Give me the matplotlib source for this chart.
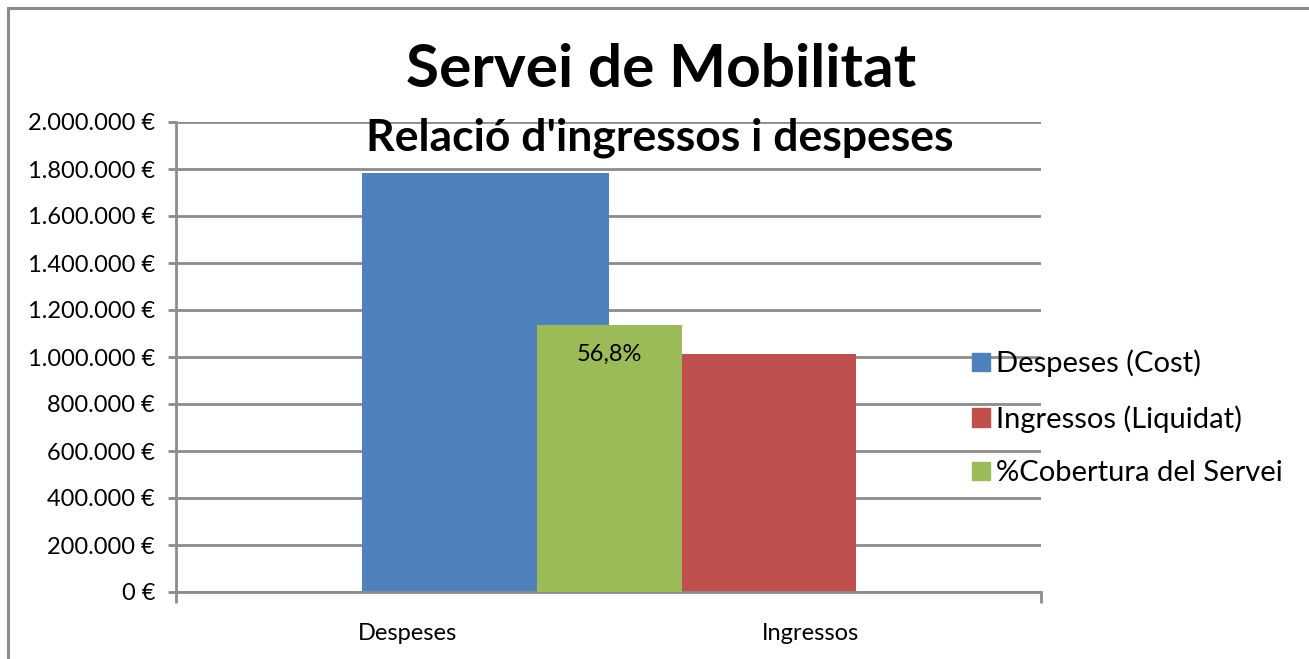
import matplotlib
matplotlib.use('Agg')
import matplotlib.pyplot as plt
from matplotlib.patches import Rectangle, Patch
from matplotlib.ticker import FuncFormatter, MultipleLocator

plt.rcParams['font.family'] = ['Lato', 'DejaVu Sans']

# data
categories = ['Despeses', 'Ingressos']
series_names = ['Despeses (Cost)', 'Ingressos (Liquidat)', '%Cobertura del Servei']
cost = 1783000
income = 1012500
coverage = income / cost          # 56,8%

colors = ['#4f81bd', '#c0504d', '#9bbb59']
grid_col = '#8c8c8c'

# layout of the bars (excel places them oddly)
x_cost, w_cost = 0.716, 0.571
x_cov, w_cov = 1.002, 0.335
x_inc, w_inc = 1.371, 0.402
label_x = [0.536, 1.468]

fig = plt.figure(figsize=(13.09, 6.59), dpi=100)
W, H = 1309, 659

# outer chart frame
fig.patches.append(Rectangle((8 / W, -0.05), 1.2, (H - 8) / H + 0.05,
                             transform=fig.transFigure, fill=False,
                             edgecolor=grid_col, linewidth=2.2))

ax = fig.add_axes([176 / W, (H - 592) / H, 865 / W, 470 / H])
ax.set_xlim(0, 2)
ax.set_ylim(0, 2000000)
ax.yaxis.set_major_locator(MultipleLocator(200000))

def euro(v, pos):
    return '{:,.0f} €'.format(v).replace(',', '.')

ax.yaxis.set_major_formatter(FuncFormatter(euro))
ax.grid(axis='y', color=grid_col, linewidth=2)
ax.set_axisbelow(True)
for s in ['top', 'right']:
    ax.spines[s].set_visible(False)
for s in ['left', 'bottom']:
    ax.spines[s].set_color(grid_col)
    ax.spines[s].set_linewidth(2)

ax.tick_params(axis='y', length=6, width=2, color=grid_col, labelsize=17, pad=9)
ax.set_xticks(label_x)
ax.set_xticklabels(categories, fontsize=17)
ax.tick_params(axis='x', which='major', length=0, pad=22)
ax.set_xticks([0, 2], minor=True)
ax.tick_params(axis='x', which='minor', length=8, width=2, color=grid_col)

ax.bar(x_cost, cost, width=w_cost, color=colors[0], zorder=2)
ax.bar(x_inc, income, width=w_inc, color=colors[1], zorder=2)

# coverage on a hidden secondary axis (0..100%)
ax2 = ax.twinx()
ax2.set_ylim(0, 1)
ax2.axis('off')
ax2.bar(x_cov, coverage, width=w_cov, color=colors[2], zorder=3)
ax2.text(x_cov, coverage - 0.04, '{:.1f}%'.format(coverage * 100).replace('.', ','),
         ha='center', va='top', fontsize=17)

handles = [Patch(color=c) for c in colors]
fig.legend(handles, series_names, loc='center left', bbox_to_anchor=(946 / W, (H - 418) / H),
           frameon=False, fontsize=21, handlelength=0.6, handleheight=0.6,
           handletextpad=0.2, labelspacing=0.95)

fig.text(661 / W, (H - 70) / H, 'Servei de Mobilitat', ha='center', va='center',
         fontsize=43.5, fontweight='bold')
fig.text(660 / W, (H - 138) / H, "Relació d'ingressos i despeses", ha='center', va='center',
         fontsize=32, fontweight='bold')

fig.savefig('out.png', dpi=100)
